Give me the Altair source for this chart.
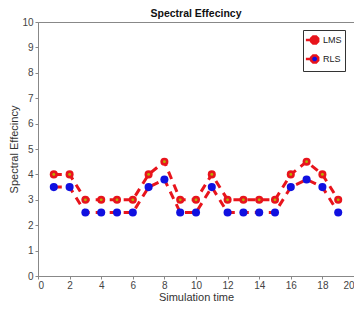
import altair as alt
import pandas as pd

time = list(range(1, 20))
lms = [4, 4, 3, 3, 3, 3, 4, 4.5, 3, 3, 4, 3, 3, 3, 3, 4, 4.5, 4, 3]
rls = [3.5, 3.5, 2.5, 2.5, 2.5, 2.5, 3.5, 3.8, 2.5, 2.5, 3.5, 2.5, 2.5, 2.5, 2.5, 3.5, 3.8, 3.5, 2.5]
series = ["LMS", "RLS"]
x_ticks = list(range(0, 21, 2))
y_ticks = list(range(0, 11, 1))
title_text = ["Spectral Effecincy"]

df = pd.DataFrame({
    "t": time * 2,
    "v": lms + rls,
    "s": [series[0]] * len(time) + [series[1]] * len(time),
})

font = "Liberation Sans"
W, H = 316, 254
xs = alt.Scale(domain=[0, 20], nice=False)
ys = alt.Scale(domain=[0, 10], nice=False)
xax = alt.Axis(values=x_ticks, title="Simulation time", grid=False, tickSize=3,
               labelPadding=1, titlePadding=1, labelOverlap=False)
yax = alt.Axis(values=y_ticks, title="Spectral Effecincy", grid=False, tickSize=3,
               labelPadding=2, titlePadding=2, labelOverlap=False)

base = alt.Chart(df).encode(
    x=alt.X("t:Q", scale=xs, axis=xax),
    y=alt.Y("v:Q", scale=ys, axis=yax),
)

lines = base.mark_line(color="#e8141c", strokeWidth=3, strokeDash=[8, 6]).encode(
    detail="s:N"
)

legend_symbol = ("M-1.3,0H-0.35 M0.947,0.268L0.568,0.647L0.032,0.647L-0.347,0.268"
                 "L-0.347,-0.268L0.032,-0.647L0.568,-0.647L0.947,-0.268Z")

points = base.mark_point(filled=True, size=65, opacity=1, shape="circle").encode(
    color=alt.Color("s:N", scale=alt.Scale(domain=series, range=["#e8141c", "#1010e0"]),
                    legend=alt.Legend(title=None, orient="none", legendX=265, legendY=8,
                                      fillColor="white", strokeColor="#333333",
                                      padding=3, rowPadding=1, symbolSize=120,
                                      symbolType=legend_symbol, labelFontSize=9,
                                      labelFont=font, labelColor="#222222",
                                      symbolStrokeColor="#e8141c", symbolStrokeWidth=2.5,
                                      labelOffset=3))
)

centers = base.transform_filter(alt.datum.s == "LMS").mark_point(
    filled=True, size=8, color="#b5b000", opacity=1
)

title = alt.Chart(pd.DataFrame({"label": title_text})).mark_text(
    font=font, fontSize=10.5, fontWeight="bold", color="#111111", baseline="middle"
).encode(text="label:N", x=alt.value(W / 2), y=alt.value(-8))

chart = alt.layer(lines, points, centers, title).properties(
    width=W, height=H,
    autosize=alt.AutoSizeParams(type="none"),
    padding={"left": 30, "top": 14, "right": 0, "bottom": 25},
).configure_view(
    stroke="#888888", strokeWidth=1
).configure_axis(
    labelFont=font, titleFont=font, labelFontSize=10, titleFontSize=11,
    labelColor="#444444", titleColor="#333333", domainColor="#888888",
    tickColor="#888888", titleFontWeight="normal",
)

chart.save("out.html", embed_options={"renderer": "svg", "actions": False})
